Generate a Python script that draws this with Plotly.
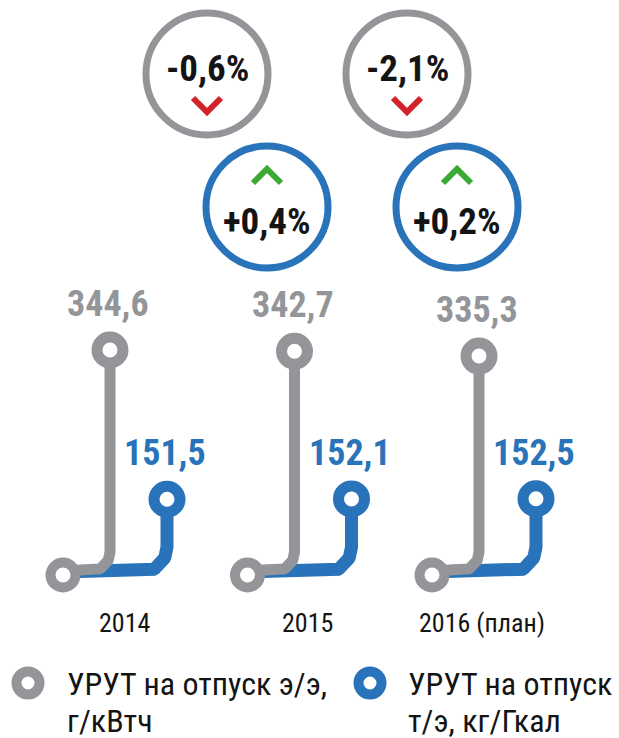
import numpy as np
import plotly.graph_objects as go


# ==========================
# DATA
# ==========================

years = ["2014", "2015", "2016 (план)"]
urut_ee = [344.6, 342.7, 335.3]          # г/кВтч
urut_te = [151.5, 152.1, 152.5]          # кг/Гкал
ee_labels = ["344,6", "342,7", "335,3"]
te_labels = ["151,5", "152,1", "152,5"]
ee_change = ["-0,6%", "-2,1%"]
te_change = ["+0,4%", "+0,2%"]
legend_lines = [["УРУТ на отпуск э/э,", "г/кВтч"], ["УРУТ на отпуск", "т/э, кг/Гкал"]]


# ==========================
# STYLE / LAYOUT
# ==========================

W, H = 619, 738
GRAY = "#939598"
BLUE = "#2873b9"
RED = "#d2232a"
GREEN = "#3aaa35"
INK = "#141414"
FONT = "Roboto Condensed, Roboto, sans-serif"

BASE_PX = 575          # pixel row of value 0 (bottom circles)
K_EE = 0.653           # px per г/кВтч
K_TE = 0.5             # px per кг/Гкал
COL_X0, COL_STEP = 63, 184.5
GRAY_DX, BLUE_DX = 47, 104
YEAR_DX = [62, 60, 50]

BADGE_GRAY = [(207, 74), (407, 74)]
BADGE_BLUE = [(267, 207), (457, 207)]


def py(p):
    """pixel row -> paper y"""
    return 1 - p / H


def axis_range(k):
    lo = -(H - BASE_PX) / k
    return [lo, lo + H / k]


def corner_path(x0, x1, y_base, y_top, r_px, k):
    ry = r_px / k
    t = np.linspace(-np.pi / 2, 0, 24)
    ax = (x1 - r_px) + r_px * np.cos(t)
    ay = (y_base + ry) + ry * np.sin(t)
    xs = np.concatenate([[x0], ax, [x1]])
    ys = np.concatenate([[y_base], ay, [y_top]])
    return xs, ys


def joined_paths(values, dx, base_px, r_px, k):
    xs_all, ys_all = [], []
    for i, v in enumerate(values):
        xb = COL_X0 + i * COL_STEP
        xs, ys = corner_path(xb, xb + dx, base_px / k, v, r_px, k)
        xs_all += list(xs) + [None]
        ys_all += list(ys) + [None]
    return xs_all, ys_all


col_x = [COL_X0 + i * COL_STEP for i in range(len(years))]
gray_x = [x + GRAY_DX for x in col_x]
blue_x = [x + BLUE_DX for x in col_x]

fig = go.Figure()

# blue (т/э) on primary axis -> drawn below gray
bx, by = joined_paths(urut_te, BLUE_DX, 3, 25, K_TE)
fig.add_trace(go.Scatter(x=bx, y=by, mode="lines", line=dict(color=BLUE, width=13),
                         yaxis="y", hoverinfo="skip"))
fig.add_trace(go.Scatter(x=blue_x, y=urut_te, mode="markers", yaxis="y",
                         marker=dict(size=26, color="white", line=dict(color=BLUE, width=11))))

# gray (э/э) on overlaying axis
gx, gy = joined_paths(urut_ee, GRAY_DX, 4, 19, K_EE)
fig.add_trace(go.Scatter(x=gx, y=gy, mode="lines", line=dict(color=GRAY, width=11),
                         yaxis="y2", hoverinfo="skip"))
fig.add_trace(go.Scatter(x=gray_x, y=urut_ee, mode="markers", yaxis="y2",
                         marker=dict(size=26, color="white", line=dict(color=GRAY, width=11))))
fig.add_trace(go.Scatter(x=col_x, y=[0] * len(col_x), mode="markers", yaxis="y2",
                         marker=dict(size=25, color="white", line=dict(color=GRAY, width=10))))

annotations = []
shapes = []

# value labels
for x, v, t in zip(gray_x, urut_ee, ee_labels):
    annotations.append(dict(x=x - 2, y=v, xref="x", yref="y2", text=t, showarrow=False,
                            xanchor="center", yanchor="middle", yshift=46,
                            font=dict(family=FONT, size=36, color=GRAY, weight="bold")))
for x, v, t in zip(blue_x, urut_te, te_labels):
    annotations.append(dict(x=x - 2, y=v, xref="x", yref="y", text=t, showarrow=False,
                            xanchor="center", yanchor="middle", yshift=46,
                            font=dict(family=FONT, size=36, color=BLUE, weight="bold")))

# year labels
for x, dx, t in zip(col_x, YEAR_DX, years):
    annotations.append(dict(x=x + dx, y=py(623), xref="x", yref="paper", text=t,
                            xanchor="center", yanchor="middle", showarrow=False,
                            font=dict(family=FONT, size=26, color=INK)))


def badge(cx, cy, color, text, text_dy, chev_dir, chev_color):
    shapes.append(dict(type="circle", xref="x", yref="paper", xsizemode="pixel",
                       ysizemode="pixel", xanchor=cx, yanchor=py(cy),
                       x0=-61, x1=61, y0=-61, y1=61,
                       line=dict(color=color, width=7), fillcolor="white"))
    annotations.append(dict(x=cx, y=py(cy + text_dy), xref="x", yref="paper", text=text,
                            xanchor="center", yanchor="middle", showarrow=False,
                            font=dict(family=FONT, size=37, color=INK, weight="bold")))
    # chevron: ends at +24, tip at +38 (down) / mirrored (up)
    s = chev_dir
    p1 = (cx - 14, py(cy + s * 24))
    p2 = (cx, py(cy + s * 38))
    p3 = (cx + 14, py(cy + s * 24))
    path = f"M {p1[0]},{p1[1]} L {p2[0]},{p2[1]} L {p3[0]},{p3[1]}"
    shapes.append(dict(type="path", xref="x", yref="paper", path=path,
                       line=dict(color=chev_color, width=6)))


for (cx, cy), t in zip(BADGE_GRAY, ee_change):
    badge(cx, cy, GRAY, t, -6, 1, RED)
for (cx, cy), t in zip(BADGE_BLUE, te_change):
    badge(cx, cy, BLUE, t, 15, -1, GREEN)

# legend
for (mx, tx), color, lines in zip([(28, 65), (370, 406)], [GRAY, BLUE], legend_lines):
    shapes.append(dict(type="circle", xref="x", yref="paper", xsizemode="pixel",
                       ysizemode="pixel", xanchor=mx, yanchor=py(683),
                       x0=-11.5, x1=11.5, y0=-11.5, y1=11.5,
                       line=dict(color=color, width=10), fillcolor="white"))
    for line, ly in zip(lines, [684, 721]):
        annotations.append(dict(x=tx, y=py(ly), xref="x", yref="paper", text=line,
                                xanchor="left", yanchor="middle", showarrow=False,
                                font=dict(family=FONT, size=32, color=INK)))

fig.update_layout(
    width=W, height=H,
    margin=dict(l=0, r=0, t=0, b=0),
    paper_bgcolor="white", plot_bgcolor="white",
    showlegend=False,
    xaxis=dict(range=[0, W], visible=False, fixedrange=True),
    yaxis=dict(range=axis_range(K_TE), visible=False, fixedrange=True),
    yaxis2=dict(range=axis_range(K_EE), visible=False, overlaying="y", fixedrange=True),
    annotations=annotations,
    shapes=shapes,
)

fig.write_html("out.html", config={"displayModeBar": False},
               post_script="document.body.style.margin='0';")
